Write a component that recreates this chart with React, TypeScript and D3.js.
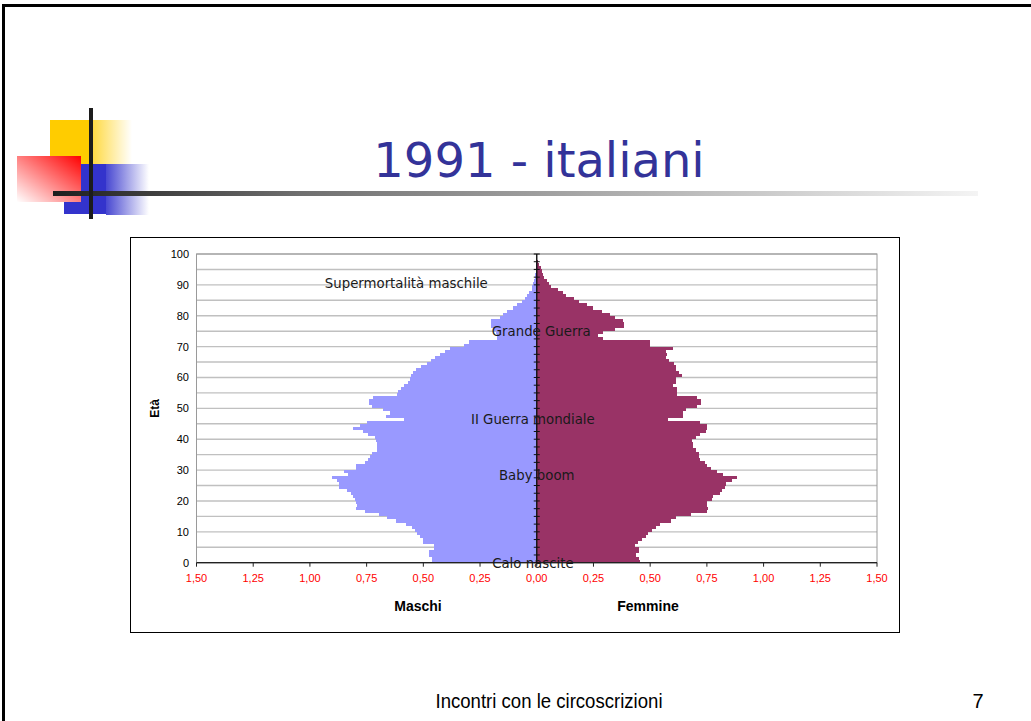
import React from 'react';
import * as d3 from 'd3';

const AGES = d3.range(0, 100);

const MASCHI = [
  0.463, 0.463, 0.474, 0.474, 0.452, 0.453, 0.5, 0.5, 0.515, 0.53,
  0.537, 0.55, 0.577, 0.621, 0.662, 0.697, 0.757, 0.795, 0.791, 0.797,
  0.8, 0.809, 0.82, 0.838, 0.871, 0.872, 0.882, 0.903, 0.834, 0.85,
  0.797, 0.797, 0.757, 0.745, 0.735, 0.725, 0.706, 0.706, 0.706, 0.708,
  0.713, 0.743, 0.768, 0.81, 0.78, 0.75, 0.586, 0.665, 0.648, 0.677,
  0.725, 0.74, 0.74, 0.72, 0.618, 0.612, 0.597, 0.585, 0.566, 0.559,
  0.553, 0.547, 0.533, 0.51, 0.486, 0.465, 0.447, 0.428, 0.405, 0.383,
  0.32, 0.3, 0.177, 0.177, 0.18, 0.19, 0.202, 0.202, 0.202, 0.162,
  0.148, 0.133, 0.106, 0.086, 0.067, 0.052, 0.042, 0.033, 0.023, 0.02,
  0.015, 0.013, 0.009, 0.007, 0.005, 0.003, 0.002, 0.001, 0.001, 0,
];

const FEMMINE = [
  0.455, 0.452, 0.436, 0.45, 0.45, 0.433, 0.445, 0.465, 0.48, 0.49,
  0.51, 0.524, 0.545, 0.59, 0.612, 0.68, 0.75, 0.757, 0.75, 0.752,
  0.772, 0.775, 0.81, 0.818, 0.828, 0.834, 0.859, 0.881, 0.822, 0.793,
  0.77, 0.749, 0.742, 0.72, 0.715, 0.715, 0.7, 0.69, 0.69, 0.685,
  0.7, 0.72, 0.746, 0.75, 0.749, 0.72, 0.58, 0.643, 0.645, 0.66,
  0.705, 0.722, 0.724, 0.705, 0.62, 0.617, 0.62, 0.602, 0.614, 0.614,
  0.639, 0.625, 0.615, 0.612, 0.607, 0.585, 0.57, 0.575, 0.572, 0.6,
  0.5, 0.5, 0.29, 0.27, 0.29, 0.345, 0.385, 0.385, 0.381, 0.343,
  0.323, 0.289, 0.248, 0.22, 0.186, 0.164, 0.127, 0.117, 0.094, 0.064,
  0.054, 0.044, 0.032, 0.026, 0.022, 0.017, 0.01, 0.004, 0.002, 0,
];

const X_TICKS = [-1.5, -1.25, -1, -0.75, -0.5, -0.25, 0, 0.25, 0.5, 0.75, 1, 1.25, 1.5];
const Y_LABELS = [0, 10, 20, 30, 40, 50, 60, 70, 80, 90, 100];
const GRID_AGES = d3.range(0, 101, 5);
const AXIS_TICKS = d3.range(0, 100.1, 2.5);

const NOTES = [
  { text: 'Supermortalità maschile', value: -0.575, age: 90.6 },
  { text: 'Grande Guerra', value: 0.02, age: 75.1 },
  { text: 'II Guerra mondiale', value: -0.017, age: 46.6 },
  { text: 'Baby boom', value: 0, age: 28.4 },
  { text: 'Calo nascite', value: -0.017, age: 0 },
];

const MALE_COLOR = '#9999ff';
const FEMALE_COLOR = '#993366';
const ARIAL = "'Liberation Sans', Arial, sans-serif";
const VERDANA = "'DejaVu Sans', Verdana, sans-serif";

const fmt = (v: number) => Math.abs(v).toFixed(2).replace('.', ',');

const Logo: React.FC = () => (
  <g>
    <defs>
      <linearGradient id="yel" x1="0" x2="1" y1="0" y2="0">
        <stop offset="0" stopColor="#ffcc00" stopOpacity={0.75} />
        <stop offset="1" stopColor="#ffcc00" stopOpacity={0} />
      </linearGradient>
      <linearGradient id="blu" x1="0" x2="1" y1="0" y2="0">
        <stop offset="0" stopColor="#3333cc" stopOpacity={0.9} />
        <stop offset="1" stopColor="#3333cc" stopOpacity={0} />
      </linearGradient>
      <linearGradient id="red" x1="1" x2="0" y1="0" y2="1">
        <stop offset="0" stopColor="#ff0000" />
        <stop offset="1" stopColor="#ff0000" stopOpacity={0} />
      </linearGradient>
      <linearGradient id="bar" x1="0" x2="1" y1="0" y2="0">
        <stop offset="0" stopColor="#1e1e1e" />
        <stop offset="0.27" stopColor="#707070" />
        <stop offset="1" stopColor="#f4f4f4" />
      </linearGradient>
    </defs>
    <rect x={50} y={120} width={42} height={44} fill="#ffcc00" />
    <rect x={92} y={120} width={40} height={44} fill="url(#yel)" />
    <rect x={64} y={164} width={42} height={50} fill="#3333cc" />
    <rect x={106} y={164} width={43} height={51} fill="url(#blu)" />
    <rect x={17} y={156} width={64} height={46} fill="#ffffff" />
    <rect x={17} y={156} width={64} height={46} fill="url(#red)" />
    <rect x={53} y={191} width={925} height={5} fill="url(#bar)" />
    <rect x={89} y={108} width={4} height={111} fill="#1c1c1c" />
  </g>
);

const Pyramid: React.FC = () => {
  const x = d3.scaleLinear().domain([-1.5, 1.5]).range([196.5, 877]);
  const y = d3.scaleLinear().domain([0, 100]).range([562.7, 254]);
  const x0 = x(0);
  const [left, right] = x.range();
  const [bottom, top] = y.range();

  return (
    <g>
      <rect x={130.5} y={237.5} width={769} height={395} fill="#fff" stroke="#000" strokeWidth={1} />

      {/* horizontal gridlines */}
      {GRID_AGES.map(a => (
        <line key={`g${a}`} x1={left} x2={right} y1={y(a)} y2={y(a)} stroke="#c0c0c0" strokeWidth={1.4} />
      ))}
      <rect x={left} y={top} width={right - left} height={bottom - top} fill="none" stroke="#9a9a9a" strokeWidth={1} />

      {/* bars */}
      <g shapeRendering="crispEdges">
        {AGES.map((a, i) => (
          <rect
            key={`m${a}`}
            x={x(-MASCHI[i])}
            y={y(a + 1)}
            width={x0 - x(-MASCHI[i])}
            height={y(a) - y(a + 1)}
            fill={MALE_COLOR}
          />
        ))}
        {AGES.map((a, i) => (
          <rect
            key={`f${a}`}
            x={x0}
            y={y(a + 1)}
            width={x(FEMMINE[i]) - x0}
            height={y(a) - y(a + 1)}
            fill={FEMALE_COLOR}
          />
        ))}
      </g>

      {/* bottom axis */}
      <line x1={left} x2={right} y1={bottom} y2={bottom} stroke="#222" strokeWidth={1.2} />
      {X_TICKS.map(t => (
        <g key={`xt${t}`}>
          <line x1={x(t)} x2={x(t)} y1={bottom} y2={bottom + 4} stroke="#222" strokeWidth={1} />
          <text x={x(t)} y={582} textAnchor="middle" fontFamily={ARIAL} fontSize={11} fill="#ff0000">
            {fmt(t)}
          </text>
        </g>
      ))}

      {/* central age axis */}
      <line x1={x0} x2={x0} y1={top} y2={bottom} stroke="#111" strokeWidth={1.4} />
      {AXIS_TICKS.map(t => (
        <line key={`at${t}`} x1={x0 - 3} x2={x0 + 3} y1={y(t)} y2={y(t)} stroke="#111" strokeWidth={1} />
      ))}

      {Y_LABELS.map(v => (
        <text key={`yl${v}`} x={189} y={y(v) + 4} textAnchor="end" fontFamily={ARIAL} fontSize={11} fill="#000">
          {v}
        </text>
      ))}
      <text
        transform={`translate(159,${y(50)}) rotate(-90)`}
        textAnchor="middle"
        fontFamily={ARIAL}
        fontSize={12}
        fontWeight="bold"
      >
        Età
      </text>
      <text x={418} y={611} textAnchor="middle" fontFamily={ARIAL} fontSize={14} fontWeight="bold">
        Maschi
      </text>
      <text x={648} y={611} textAnchor="middle" fontFamily={ARIAL} fontSize={14} fontWeight="bold">
        Femmine
      </text>

      {/* annotations */}
      {NOTES.map(n => (
        <text
          key={n.text}
          x={x(n.value)}
          y={y(n.age) + 5}
          textAnchor="middle"
          fontFamily={VERDANA}
          fontSize={13.3}
          fill="#1a1a1a"
        >
          {n.text}
        </text>
      ))}
    </g>
  );
};

export default function App() {
  return (
    <svg
      width={1031}
      height={721}
      style={{ position: 'absolute', left: 0, top: 0, background: '#fff' }}
    >
      <rect x={0} y={0} width={1031} height={721} fill="#fff" />
      <rect x={3.5} y={5.5} width={1060} height={760} fill="none" stroke="#000" strokeWidth={3} />
      <Logo />
      <text x={539} y={177} textAnchor="middle" fontFamily={VERDANA} fontSize={48} fill="#333399">
        1991 - italiani
      </text>
      <Pyramid />
      <text
        x={549}
        y={708}
        textAnchor="middle"
        fontFamily={ARIAL}
        fontSize={20}
        textLength={227}
        lengthAdjust="spacingAndGlyphs"
        fill="#000"
      >
        Incontri con le circoscrizioni
      </text>
      <text x={978} y={708} textAnchor="middle" fontFamily={ARIAL} fontSize={20} fill="#000">
        7
      </text>
    </svg>
  );
}
